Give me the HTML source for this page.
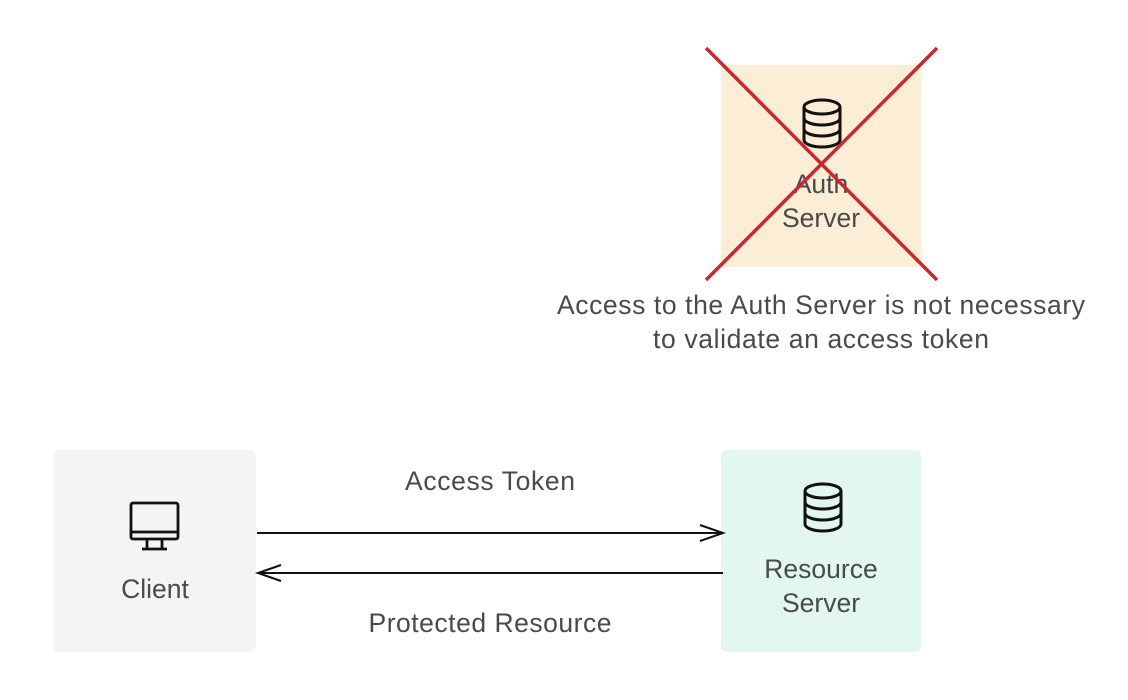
<!DOCTYPE html>
<html><head><meta charset="utf-8"><style>html,body{margin:0;padding:0;background:#fff}svg{display:block}</style></head>
<body>
<svg width="1128" height="700" viewBox="0 0 1128 700" xmlns="http://www.w3.org/2000/svg" font-family="Liberation Sans, sans-serif" font-size="26.5" fill="#4a4a4a">
<defs>
<g id="db" fill="none" stroke="#111" stroke-width="3">
<ellipse cx="0" cy="-16" rx="18" ry="7"/>
<path d="M-18,-16 V17 A18,7 0 0 0 18,17 V-16"/>
<path d="M-18,-5 A18,7 0 0 0 18,-5"/>
<path d="M-18,6 A18,7 0 0 0 18,6"/>
</g>
</defs>
<rect x="721" y="65" width="200" height="202" fill="#fbedd6"/>
<use href="#db" transform="translate(822,123)"/>
<text x="821" y="193" text-anchor="middle">Auth</text>
<text x="821" y="227" text-anchor="middle">Server</text>
<line x1="706" y1="48" x2="937" y2="280" stroke="#c8282f" stroke-width="3.5"/>
<line x1="937" y1="48" x2="706" y2="280" stroke="#c8282f" stroke-width="3.5"/>
<text x="821" y="314" text-anchor="middle" textLength="528">Access to the Auth Server is not necessary</text>
<text x="821" y="348" text-anchor="middle" textLength="336">to validate an access token</text>

<rect x="53" y="450" width="203" height="202" rx="6" fill="#f4f4f4"/>
<g fill="none" stroke="#111" stroke-width="2.8">
<rect x="131" y="503" width="47" height="36" rx="2"/>
<line x1="131" y1="532" x2="178" y2="532"/>
<line x1="147" y1="539" x2="147" y2="549"/>
<line x1="162" y1="539" x2="162" y2="549"/>
<line x1="142" y1="549" x2="167" y2="549"/>
</g>
<text x="155" y="598" text-anchor="middle">Client</text>

<rect x="721" y="450" width="200" height="202" rx="6" fill="#e2f7f1"/>
<use href="#db" transform="translate(823,507)"/>
<text x="821" y="578" text-anchor="middle">Resource</text>
<text x="821" y="612" text-anchor="middle">Server</text>

<g stroke="#111" stroke-width="2" fill="none">
<line x1="257" y1="533" x2="723" y2="533"/>
<polyline points="700,525 723,533 700,541"/>
<line x1="258" y1="573" x2="723" y2="573"/>
<polyline points="281,565 258,573 281,581"/>
</g>
<text x="490" y="490" text-anchor="middle" textLength="170">Access Token</text>
<text x="490" y="632" text-anchor="middle" textLength="243">Protected Resource</text>
</svg>
</body></html>
